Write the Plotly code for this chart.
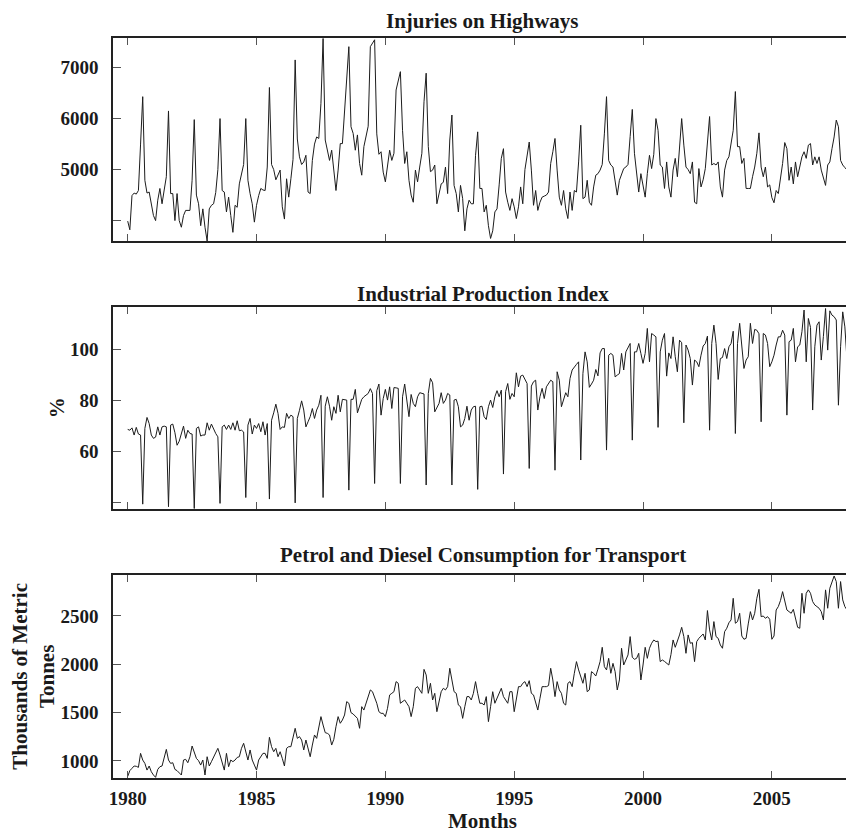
import plotly.graph_objects as go

# ---------------- data (monthly, Jan 1980 - Dec 2007) ----------------
years = list(range(1980, 2008))
month_pos = [y + k / 12 for y in years for k in range(12)]

injuries = [
    3990, 3820, 4490, 4540, 4520, 4590, 5500, 6430, 4790, 4540, 4560, 4300,  # 1980
    4100, 4000, 4400, 4630, 4330, 4600, 4860, 6150, 4530, 4530, 4000, 4530,  # 1981
    4000, 3870, 4100, 4200, 4200, 4200, 4790, 5980, 4500, 4330, 3900, 4230,  # 1982
    3870, 3600, 4230, 4300, 4330, 4550, 5000, 6000, 4590, 4560, 4170, 4460,  # 1983
    4100, 3770, 4300, 4260, 4720, 4920, 5100, 6000, 4790, 4530, 4330, 3970,  # 1984
    4300, 4490, 4630, 4600, 4590, 5050, 6610, 5100, 5000, 4800, 4900, 4990,  # 1985
    4270, 4030, 4820, 4460, 4820, 5200, 7150, 5600, 5250, 5100, 5150, 5280,  # 1986
    4560, 4530, 5180, 5500, 5640, 5610, 6300, 7570, 5580, 5400, 5180, 5380,  # 1987
    4920, 4590, 4990, 5510, 5510, 6100, 6800, 7410, 5840, 5710, 5380, 5680,  # 1988
    5120, 4890, 5450, 5640, 5850, 7410, 7480, 7545, 5700, 5300, 5350, 4950,  # 1989
    4760, 5050, 5380, 5180, 5320, 6560, 6750, 6920, 5770, 5120, 5350, 4790,  # 1990
    4500, 4360, 4990, 4760, 5050, 5320, 6330, 6890, 5450, 4960, 4990, 5090,  # 1991
    4330, 4530, 4720, 4750, 5050, 4530, 5580, 6070, 4690, 4530, 4170, 4690,  # 1992
    4430, 3800, 4230, 4400, 4330, 4330, 5280, 5740, 4630, 4630, 4170, 4300,  # 1993
    3900, 3650, 3800, 4170, 4230, 4700, 5220, 5410, 4560, 4360, 4200, 4430,  # 1994
    4270, 4040, 4270, 4660, 4330, 5000, 5250, 5540, 4990, 4300, 4590, 4200,  # 1995
    4360, 4460, 4480, 4500, 4560, 5120, 5350, 5610, 4990, 4460, 4300, 4590,  # 1996
    4230, 4040, 4560, 4200, 4590, 4560, 5150, 5870, 4430, 4460, 4790, 4360,  # 1997
    4300, 4660, 4890, 4920, 4990, 5100, 5700, 6430, 5180, 5090, 5050, 4760,  # 1998
    4500, 4790, 4890, 5020, 5050, 5100, 5650, 6180, 5320, 4990, 4560, 4920,  # 1999
    4690, 4460, 4920, 5280, 5020, 5300, 6000, 5770, 5090, 5050, 4630, 5150,  # 2000
    4660, 4460, 4990, 5220, 4860, 5450, 6000, 5480, 5050, 5000, 4920, 5150,  # 2001
    4360, 4330, 5020, 4660, 4800, 5020, 5580, 6040, 5090, 5120, 5090, 5150,  # 2002
    4660, 4460, 4990, 5180, 5250, 5500, 5770, 6530, 5450, 5450, 5120, 5220,  # 2003
    4630, 4630, 4630, 4860, 5050, 5320, 5720, 5050, 4860, 5050, 4660, 4700,  # 2004
    4450, 4350, 4590, 4530, 4790, 5120, 5530, 5410, 4790, 5050, 4720, 5150,  # 2005
    4860, 5090, 5250, 5350, 5220, 5480, 5510, 5090, 5250, 5120, 5250, 4990,  # 2006
    4820, 4690, 5090, 5150, 5410, 5640, 5970, 5840, 5180, 5090, 5040, 4990,  # 2007
]

industrial = [
    68.5, 68.2, 69.1, 66.3, 69.3, 66.7, 66.3, 39.2, 68.9, 73.2, 70.8, 66.3,  # 1980
    65.0, 65.5, 69.5, 66.3, 69.5, 69.8, 69.5, 38.2, 70.2, 70.6, 67.2, 62.3,  # 1981
    63.9, 66.9, 69.8, 65.0, 68.2, 66.9, 66.7, 37.5, 68.9, 69.5, 65.9, 66.3,  # 1982
    66.3, 71.1, 68.2, 70.6, 68.5, 66.9, 65.6, 39.5, 69.5, 70.2, 68.5, 70.2,  # 1983
    68.5, 71.1, 68.2, 71.9, 68.0, 68.2, 67.5, 41.8, 70.2, 72.8, 66.7, 70.2,  # 1984
    68.9, 70.8, 67.6, 71.5, 66.3, 70.8, 41.2, 72.1, 75.0, 78.4, 74.8, 68.5,  # 1985
    69.5, 69.3, 74.8, 72.8, 74.1, 73.5, 39.7, 72.8, 76.0, 79.7, 76.1, 69.5,  # 1986
    71.5, 73.5, 76.7, 72.8, 76.1, 78.0, 81.9, 41.8, 77.6, 81.3, 77.6, 72.1,  # 1987
    77.4, 74.8, 81.9, 75.4, 80.3, 80.0, 80.0, 44.7, 80.3, 80.3, 84.2, 75.0,  # 1988
    77.6, 80.3, 81.3, 82.0, 82.6, 84.5, 82.6, 47.3, 83.7, 86.3, 74.1, 80.6,  # 1989
    84.2, 80.0, 85.2, 76.7, 84.9, 84.8, 84.6, 47.3, 81.3, 86.3, 80.0, 73.5,  # 1990
    82.2, 78.7, 77.4, 81.3, 82.9, 82.6, 82.4, 46.7, 82.6, 88.5, 86.8, 75.4,  # 1991
    77.4, 78.7, 82.9, 78.7, 80.0, 82.6, 82.0, 46.7, 80.0, 80.3, 77.4, 69.5,  # 1992
    70.2, 72.8, 77.6, 72.1, 76.1, 77.4, 77.6, 45.0, 77.4, 77.6, 73.5, 72.4,  # 1993
    77.4, 80.0, 77.1, 81.3, 83.7, 81.3, 83.9, 51.0, 83.3, 86.5, 80.3, 82.6,  # 1994
    81.3, 90.7, 85.2, 89.4, 89.8, 88.0, 86.5, 53.2, 85.5, 87.2, 87.8, 76.1,  # 1995
    81.3, 84.6, 80.6, 85.2, 86.8, 87.8, 87.2, 52.5, 91.1, 87.8, 77.4, 80.0,  # 1996
    82.9, 81.3, 88.5, 91.8, 93.1, 94.0, 95.0, 56.5, 90.4, 98.9, 95.0, 85.0,  # 1997
    86.3, 87.8, 92.0, 89.5, 98.5, 100.2, 100.2, 60.4, 97.6, 98.3, 97.6, 89.1,  # 1998
    89.8, 90.4, 98.3, 91.8, 98.9, 100.9, 102.2, 64.3, 98.9, 98.9, 102.2, 98.3,  # 1999
    94.4, 98.3, 108.1, 95.0, 106.1, 105.5, 104.8, 69.3, 98.9, 103.5, 106.1, 89.4,  # 2000
    98.5, 96.3, 104.8, 97.0, 91.1, 103.5, 102.5, 71.1, 101.6, 99.6, 96.3, 85.9,  # 2001
    95.7, 95.0, 93.1, 97.6, 101.2, 102.2, 105.1, 68.2, 102.2, 109.4, 102.2, 88.1,  # 2002
    96.3, 96.7, 100.2, 96.3, 100.9, 102.2, 107.0, 66.9, 102.2, 110.1, 99.6, 92.4,  # 2003
    95.7, 97.0, 110.1, 102.2, 107.7, 107.4, 106.0, 71.5, 106.1, 105.5, 102.2, 93.1,  # 2004
    95.0, 97.6, 101.6, 104.8, 104.8, 107.4, 105.5, 74.1, 102.9, 103.5, 108.1, 95.0,  # 2005
    100.9, 101.6, 106.8, 115.3, 95.0, 112.0, 108.5, 76.1, 100.9, 109.4, 110.7, 95.7,  # 2006
    105.0, 115.9, 99.6, 115.0, 113.3, 112.7, 111.4, 78.0, 100.9, 114.6, 108.7, 95.7,  # 2007
]

petrol = [
    840, 900, 924, 948, 945, 934, 1079, 1010, 975, 906, 948, 889,  # 1980
    855, 831, 913, 941, 948, 1027, 1120, 1010, 975, 982, 913, 900,  # 1981
    872, 855, 1010, 1017, 982, 1044, 1155, 1079, 1027, 1003, 958, 1010,  # 1982
    855, 1044, 948, 993, 1037, 1096, 1131, 1062, 993, 906, 1079, 941,  # 1983
    1010, 993, 1010, 1037, 1044, 1131, 1183, 1079, 1010, 1114, 1010, 958,  # 1984
    906, 1010, 1050, 1079, 1079, 1027, 1245, 1148, 1096, 1131, 1044, 1096,  # 1985
    1027, 948, 1131, 1148, 1148, 1245, 1338, 1234, 1252, 1217, 1114, 1217,  # 1986
    1114, 1044, 1165, 1269, 1234, 1338, 1459, 1372, 1293, 1286, 1269, 1165,  # 1987
    1224, 1355, 1459, 1390, 1424, 1476, 1614, 1597, 1500, 1486, 1459, 1441,  # 1988
    1338, 1562, 1527, 1597, 1666, 1735, 1717, 1666, 1597, 1510, 1493, 1493,  # 1989
    1459, 1545, 1683, 1700, 1717, 1821, 1804, 1597, 1614, 1631, 1597, 1562,  # 1990
    1459, 1562, 1752, 1769, 1735, 1700, 1948, 1890, 1700, 1804, 1631, 1700,  # 1991
    1510, 1631, 1717, 1752, 1735, 1769, 1959, 1838, 1717, 1700, 1579, 1562,  # 1992
    1441, 1562, 1666, 1666, 1631, 1700, 1821, 1700, 1597, 1597, 1579, 1666,  # 1993
    1407, 1562, 1717, 1597, 1648, 1700, 1752, 1666, 1631, 1597, 1717, 1717,  # 1994
    1510, 1648, 1769, 1769, 1804, 1821, 1769, 1831, 1700, 1683, 1597, 1527,  # 1995
    1648, 1769, 1769, 1769, 1780, 1959, 1838, 1666, 1821, 1735, 1700, 1597,  # 1996
    1579, 1804, 1821, 1769, 1907, 2028, 1942, 1873, 1804, 1907, 1717, 1735,  # 1997
    1924, 1907, 1879, 1950, 2028, 2176, 1976, 1942, 2062, 1907, 2010, 1924,  # 1998
    1735, 1838, 2166, 1993, 2045, 2097, 2287, 2073, 2052, 2062, 2114, 1838,  # 1999
    1993, 2176, 2062, 2166, 2218, 2252, 2235, 2240, 2028, 2045, 2030, 2010,  # 2000
    1993, 2100, 2252, 2176, 2235, 2304, 2383, 2287, 2114, 2304, 2218, 2224,  # 2001
    2028, 2235, 2269, 2287, 2314, 2252, 2556, 2356, 2252, 2442, 2287, 2269,  # 2002
    2200, 2166, 2338, 2373, 2430, 2459, 2683, 2425, 2442, 2528, 2293, 2259,  # 2003
    2269, 2418, 2545, 2459, 2528, 2683, 2776, 2493, 2500, 2476, 2493, 2466,  # 2004
    2259, 2293, 2562, 2597, 2659, 2752, 2649, 2562, 2545, 2528, 2569, 2459,  # 2005
    2383, 2373, 2735, 2528, 2735, 2770, 2735, 2649, 2614, 2597, 2580, 2545,  # 2006
    2459, 2770, 2580, 2787, 2856, 2914, 2856, 2580, 2856, 2666, 2597, 2562,  # 2007
]

year_ticks = [1980, 1985, 1990, 1995, 2000, 2005]
titles = ["Injuries on Highways", "Industrial Production Index",
          "Petrol and Diesel Consumption for Transport"]
inj_ticks = [4000, 5000, 6000, 7000]
inj_labels = ["", "5000", "6000", "7000"]
ind_ticks = [40, 60, 80, 100]
ind_labels = ["", "60", "80", "100"]
pet_ticks = [1000, 1500, 2000, 2500]
pet_labels = ["1000", "1500", "2000", "2500"]

# ---------------- figure ----------------
# The page body has an 8px default margin, so the figure is 8px smaller
# and every page-pixel position below is expressed with that offset.
OFF = 8
W, Hfig = 854 - OFF, 833 - OFF
SERIF = "Liberation Serif, Times New Roman, serif"
LINE = dict(color="#1c1c1c", width=1)

fig = go.Figure()
fig.add_trace(go.Scatter(x=month_pos, y=injuries, mode="lines", line=LINE, xaxis="x", yaxis="y"))
fig.add_trace(go.Scatter(x=month_pos, y=industrial, mode="lines", line=LINE, xaxis="x2", yaxis="y2"))
fig.add_trace(go.Scatter(x=month_pos, y=petrol, mode="lines", line=LINE, xaxis="x3", yaxis="y3"))

tickfont = dict(family=SERIF, size=19, color="#1a1a1a", weight="bold")

def xax(anchor, labels):
    return dict(anchor=anchor, domain=[0, 1], range=[1979.43, 2008.11],
                tickmode="array", tickvals=year_ticks,
                ticktext=[str(t) for t in year_ticks],
                showticklabels=labels, ticks="inside", ticklen=7, tickwidth=1.2,
                tickcolor="#555", showline=True, linecolor="#222", linewidth=1.5,
                mirror="ticks", showgrid=False, zeroline=False, tickfont=tickfont,
                ticklabelstandoff=2)

def yax(anchor, domain, rng, tv, tt):
    return dict(anchor=anchor, domain=domain, range=rng, tickmode="array",
                tickvals=tv, ticktext=tt, ticks="inside", ticklen=8, tickwidth=1.2,
                tickcolor="#555", showline=True, linecolor="#222", linewidth=1.5,
                mirror=True, showgrid=False, zeroline=False, tickfont=tickfont,
                ticklabelstandoff=9)

# plot area: page x 113..854, page y 38..778
L, T, B = 113 - OFF, 38 - OFF, 833 - 778
PW = W - L
PH = Hfig - T - B

def py(px):  # page y pixel -> paper fraction
    return (778 - px) / PH

def pxx(px):  # page x pixel -> paper fraction
    return (px - 113) / PW

fig.update_layout(
    width=W, height=Hfig,
    margin=dict(l=L, r=0, t=T, b=B, pad=0),
    paper_bgcolor="white", plot_bgcolor="white", showlegend=False,
    xaxis=xax("y", False),
    xaxis2=xax("y2", False),
    xaxis3=xax("y3", True),
    yaxis=yax("x", [py(241), 1.0], [3600, 7580], inj_ticks, inj_labels),
    yaxis2=yax("x2", [py(509), py(307)], [37.3, 116.5], ind_ticks, ind_labels),
    yaxis3=yax("x3", [0.0, py(575)], [824, 2924], pet_ticks, pet_labels),
)

tfont = dict(family=SERIF, size=21, color="#1a1a1a", weight="bold")
ann = []
for t, ypx in zip(titles, [21, 294, 555]):
    ann.append(dict(text=t, xref="paper", yref="paper", x=0.5, y=py(ypx),
                    xanchor="center", yanchor="middle", showarrow=False, font=tfont))
ann.append(dict(text="%", xref="paper", yref="paper", x=pxx(57), y=py(408),
                xanchor="center", yanchor="middle", textangle=-90, showarrow=False, font=tfont))
ann.append(dict(text="Thousands of Metric<br>Tonnes", xref="paper", yref="paper",
                x=pxx(33), y=py(676.5), xanchor="center", yanchor="middle",
                textangle=-90, showarrow=False, font=tfont))
ann.append(dict(text="Months", xref="paper", yref="paper", x=0.5, y=py(821),
                xanchor="center", yanchor="middle", showarrow=False, font=tfont))
fig.update_layout(annotations=ann)

fig.write_html("out.html")
